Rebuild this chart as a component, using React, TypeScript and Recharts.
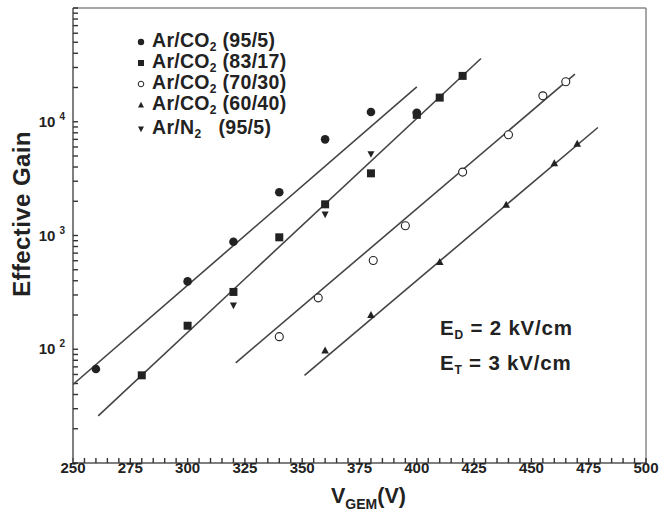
import React from "react";
import { ScatterChart, Scatter, XAxis, YAxis, ReferenceLine } from "recharts";

// gain vs GEM voltage, one array per gas mixture
const ar95co2 = [
  { v: 260, g: 67 },
  { v: 300, g: 395 },
  { v: 320, g: 880 },
  { v: 340, g: 2400 },
  { v: 360, g: 7000 },
  { v: 380, g: 12200 },
  { v: 400, g: 12000 },
];
const ar83co2 = [
  { v: 280, g: 59 },
  { v: 300, g: 161 },
  { v: 320, g: 319 },
  { v: 340, g: 964 },
  { v: 360, g: 1880 },
  { v: 380, g: 3520 },
  { v: 400, g: 11500 },
  { v: 410, g: 16300 },
  { v: 420, g: 25300 },
];
const ar70co2 = [
  { v: 340, g: 129 },
  { v: 357, g: 283 },
  { v: 381, g: 603 },
  { v: 395, g: 1220 },
  { v: 420, g: 3610 },
  { v: 440, g: 7690 },
  { v: 455, g: 16900 },
  { v: 465, g: 22500 },
];
const ar60co2 = [
  { v: 360, g: 97 },
  { v: 380, g: 199 },
  { v: 410, g: 583 },
  { v: 439, g: 1860 },
  { v: 460, g: 4300 },
  { v: 470, g: 6380 },
];
const arN2 = [
  { v: 320, g: 244 },
  { v: 360, g: 1540 },
  { v: 380, g: 5220 },
];

// exponential fits (end points of each straight line on the log axis)
const fit95 = [{ v: 250, g: 49 }, { v: 400, g: 20300 }];
const fit83 = [{ v: 261, g: 26 }, { v: 428, g: 36000 }];
const fit70 = [{ v: 321, g: 76 }, { v: 469, g: 26200 }];
const fit60 = [{ v: 351, g: 59 }, { v: 479, g: 8900 }];

const xTicks = [
  250, 255, 260, 265, 270, 275, 280, 285, 290, 295, 300, 305, 310, 315, 320, 325, 330, 335,
  340, 345, 350, 355, 360, 365, 370, 375, 380, 385, 390, 395, 400, 405, 410, 415, 420, 425,
  430, 435, 440, 445, 450, 455, 460, 465, 470, 475, 480, 485, 490, 495, 500,
];
const decades = [10, 100, 1000, 10000];
const mantissas = [1, 2, 3, 4, 5, 6, 7, 8, 9];
const yTicks = [...decades.flatMap((d) => mantissas.map((m) => m * d)), 100000];
const yLabelled = [100, 1000, 10000];

const INK = "#222";
const AXIS = "#555";
const FONT = "'Liberation Sans', Arial, Helvetica, sans-serif";
const TICK = 5;

// tick marks come from the axis (pointing inward); these only place the labels
const XTick = (props: any) => {
  const { x, y, payload } = props;
  const v = payload.value;
  if (v % 25 !== 0) return <g />;
  return (
    <text x={x} y={y - TICK + 20} textAnchor="middle" fontSize={15} fontWeight="bold" fill={INK} fontFamily={FONT}>
      {v}
    </text>
  );
};

const YTick = (props: any) => {
  const { x, y, payload } = props;
  const v = payload.value;
  if (!yLabelled.includes(v)) return <g />;
  return (
    <text x={x - TICK - 8} y={y + 5} textAnchor="end" fontSize={15} fontWeight="bold" fill={INK} fontFamily={FONT}>
      <tspan>10</tspan>
      <tspan dx={4} dy={-7} fontSize={10}>
        {Math.round(Math.log10(v))}
      </tspan>
    </text>
  );
};

const dot = (p: any) => <circle cx={p.cx} cy={p.cy} r={4.3} fill={INK} />;
const square = (p: any) => <rect x={p.cx - 4} y={p.cy - 4} width={8} height={8} fill={INK} />;
const ring = (p: any) => <circle cx={p.cx} cy={p.cy} r={4} fill="#fff" stroke={INK} strokeWidth={1.1} />;
const triUp = (p: any) => (
  <path d={`M${p.cx},${p.cy - 4.2}L${p.cx + 3.8},${p.cy + 2.8}L${p.cx - 3.8},${p.cy + 2.8}Z`} fill={INK} />
);
const triDown = (p: any) => (
  <path d={`M${p.cx},${p.cy + 4}L${p.cx + 3.5},${p.cy - 2.6}L${p.cx - 3.5},${p.cy - 2.6}Z`} fill={INK} />
);
const noMarker = () => <g />;

const fitLine = { stroke: "#444", strokeWidth: 1.6 };

const legendRows = [
  { shape: "dot", label: "Ar/CO", sub: "2", rest: " (95/5)", top: 31 },
  { shape: "square", label: "Ar/CO", sub: "2", rest: " (83/17)", top: 52 },
  { shape: "ring", label: "Ar/CO", sub: "2", rest: " (70/30)", top: 73 },
  { shape: "up", label: "Ar/CO", sub: "2", rest: " (60/40)", top: 94 },
  { shape: "down", label: "Ar/N", sub: "2", rest: "\u00a0\u00a0 (95/5)", top: 118 },
];

const LegendMark = ({ shape }: { shape: string }) => (
  <svg width={10} height={10} style={{ marginRight: 6 }}>
    {shape === "dot" && <circle cx={5} cy={5} r={3.2} fill={INK} />}
    {shape === "square" && <rect x={2} y={2} width={6} height={6} fill={INK} />}
    {shape === "ring" && <circle cx={5} cy={5} r={2.8} fill="#fff" stroke={INK} strokeWidth={1} />}
    {shape === "up" && <path d="M5,1.8L8,7.6L2,7.6Z" fill={INK} />}
    {shape === "down" && <path d="M5,8.2L8,2.4L2,2.4Z" fill={INK} />}
  </svg>
);

const subStyle = { fontSize: 12, verticalAlign: -4 };

export default function App() {
  return (
    <div style={{ position: "absolute", left: 0, top: 0, width: 661, height: 518, background: "#fff", fontFamily: FONT }}>
      <ScatterChart width={661} height={518} margin={{ top: 8, right: 15, bottom: 0, left: 0 }}>
        <XAxis
          type="number"
          dataKey="v"
          domain={[250, 500]}
          ticks={xTicks}
          interval={0}
          tickSize={-TICK}
          tickMargin={0}
          tickLine={{ stroke: "#333", strokeWidth: 1.4 }}
          tick={<XTick />}
          height={55}
          axisLine={{ stroke: AXIS, strokeWidth: 1.5 }}
          allowDataOverflow
        />
        <YAxis
          type="number"
          dataKey="g"
          scale="log"
          domain={[10, 100000]}
          ticks={yTicks}
          interval={0}
          tickSize={-TICK}
          tickMargin={0}
          tickLine={{ stroke: "#333", strokeWidth: 1.4 }}
          tick={<YTick />}
          width={73}
          axisLine={{ stroke: AXIS, strokeWidth: 1.5 }}
          allowDataOverflow
        />
        <ReferenceLine y={100000} stroke="#888" strokeWidth={1.5} />
        <ReferenceLine x={500} stroke="#888" strokeWidth={1.5} />

        <Scatter data={fit95} line={fitLine} shape={noMarker} isAnimationActive={false} />
        <Scatter data={fit83} line={fitLine} shape={noMarker} isAnimationActive={false} />
        <Scatter data={fit70} line={fitLine} shape={noMarker} isAnimationActive={false} />
        <Scatter data={fit60} line={fitLine} shape={noMarker} isAnimationActive={false} />

        <Scatter data={ar95co2} shape={dot} isAnimationActive={false} />
        <Scatter data={ar83co2} shape={square} isAnimationActive={false} />
        <Scatter data={ar70co2} shape={ring} isAnimationActive={false} />
        <Scatter data={ar60co2} shape={triUp} isAnimationActive={false} />
        <Scatter data={arN2} shape={triDown} isAnimationActive={false} />
      </ScatterChart>

      {/* legend */}
      {legendRows.map((r, i) => (
        <div
          key={i}
          style={{
            position: "absolute",
            left: 136,
            top: r.top,
            display: "flex",
            alignItems: "center",
            height: 21,
            whiteSpace: "pre",
            color: INK,
            fontWeight: "bold",
            fontSize: 19.5,
            letterSpacing: 0.3,
          }}
        >
          <LegendMark shape={r.shape} />
          <span>
            {r.label}
            <sub style={subStyle}>{r.sub}</sub>
            {r.rest}
          </span>
        </div>
      ))}

      {/* field settings */}
      <div
        style={{
          position: "absolute",
          left: 440,
          top: 314,
          color: INK,
          fontWeight: "bold",
          fontSize: 20.5,
          lineHeight: "28px",
          letterSpacing: 0.8,
          whiteSpace: "nowrap",
        }}
      >
        <div>
          E<sub style={subStyle}>D</sub> = 2 kV/cm
        </div>
        <div>
          E<sub style={subStyle}>T</sub> = 3 kV/cm
        </div>
      </div>

      {/* axis titles */}
      <div
        style={{
          position: "absolute",
          left: 22,
          top: 214,
          transform: "translate(-50%, -50%) rotate(-90deg)",
          whiteSpace: "nowrap",
          color: INK,
          fontWeight: "bold",
          fontSize: 24,
          letterSpacing: 0.4,
        }}
      >
        Effective Gain
      </div>
      <div style={{ position: "absolute", left: 331, top: 484, color: INK, fontWeight: "bold", fontSize: 21.5, whiteSpace: "nowrap" }}>
        V<sub style={{ fontSize: 14, verticalAlign: -6 }}>GEM</sub>(V)
      </div>
    </div>
  );
}
